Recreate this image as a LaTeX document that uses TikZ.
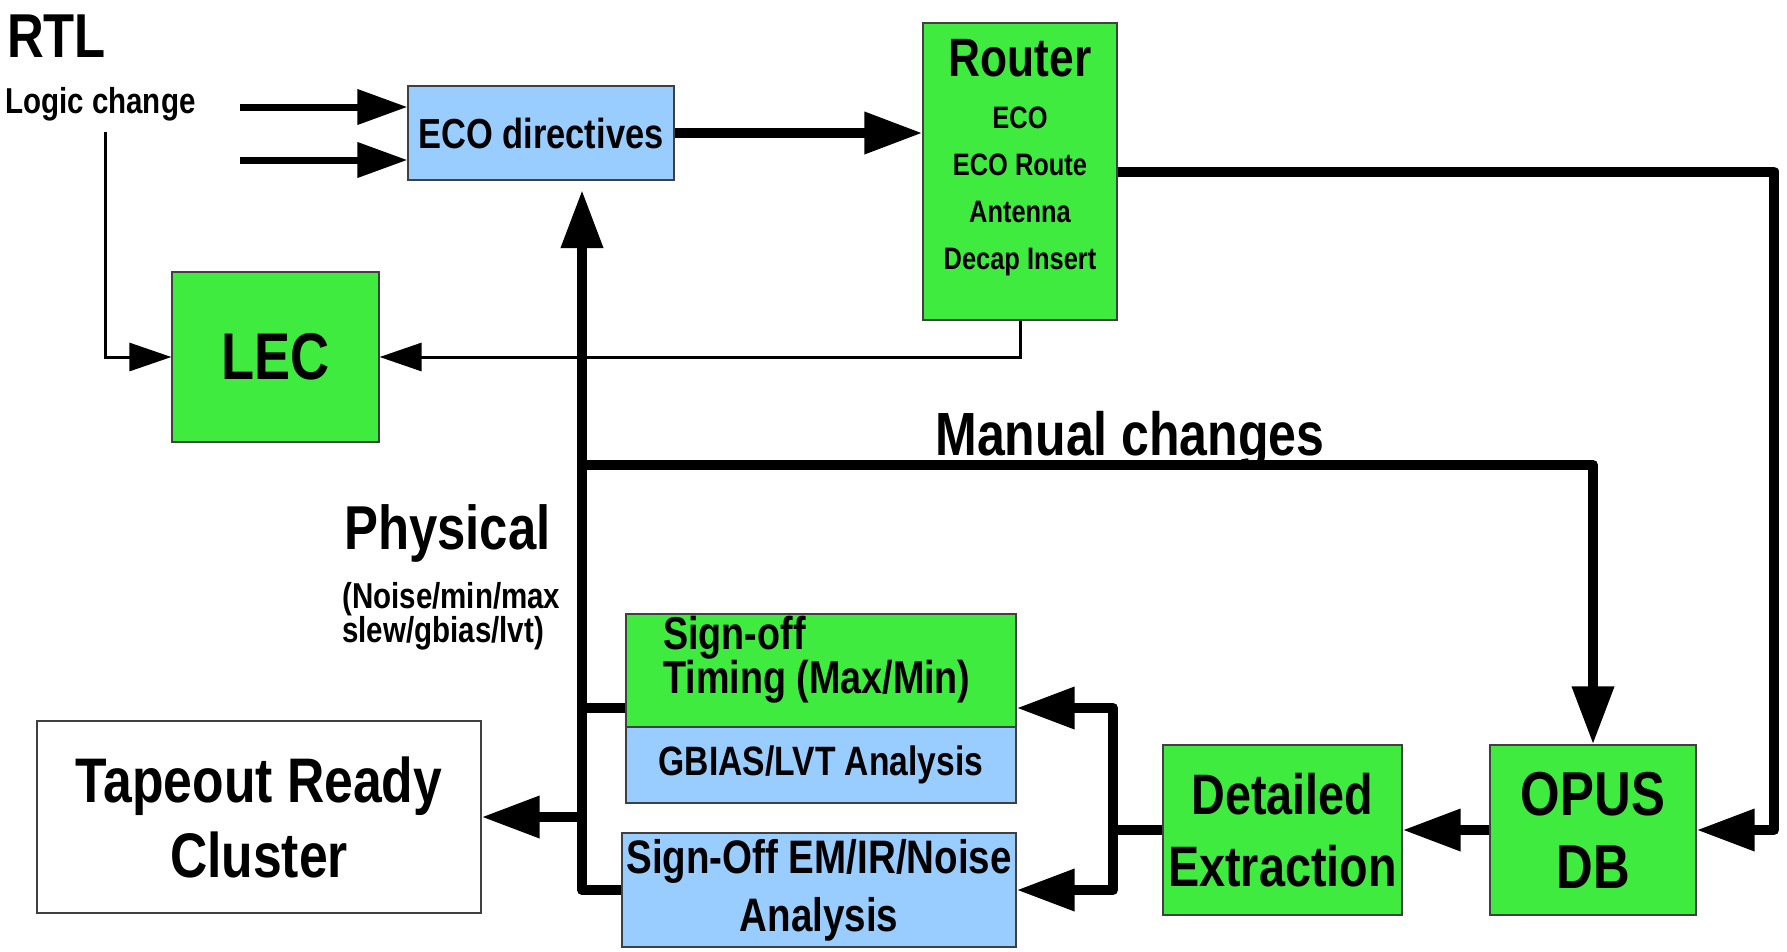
\documentclass[tikz,border=0pt]{standalone}
\usepackage{fontspec}
\setmainfont{Liberation Sans}[FakeStretch=0.82]
\usetikzlibrary{arrows.meta,calc}
\definecolor{boxgreen}{RGB}{64,235,64}
\definecolor{boxblue}{RGB}{153,204,255}
\newcommand\fsz[1]{\fontsize{#1}{#1}\selectfont\bfseries}
\newcommand\fszz[2]{\fontsize{#1}{#2}\selectfont\bfseries}
\begin{document}
\begin{tikzpicture}[x=1pt,y=-1pt,
  box/.style={draw=black!75, line width=1.2pt, inner sep=0pt, align=center},
  gbox/.style={box, fill=boxgreen},
  bbox/.style={box, fill=boxblue},
  wbox/.style={box, fill=white},
  lbl/.style={inner sep=0pt, anchor=base},
  lblw/.style={inner sep=0pt, anchor=base west},
  thickline/.style={line width=10pt, line join=round},
  midline/.style={line width=7pt},
  thinline/.style={line width=3pt},
  bigtip/.style={-{Triangle[length=58pt,width=40pt]}},
  medtip/.style={-{Triangle[length=50pt,width=34pt]}},
  smalltip/.style={-{Triangle[length=42pt,width=28pt]}}]
\useasboundingbox (0,0) rectangle (1787,951);
\fill[white] (0,0) rectangle (1787,951);

% boxes
\node[bbox, minimum width=266pt, minimum height=94pt, font=\fsz{42}] (eco) at (541,133) {ECO directives};
\node[gbox, minimum width=194pt, minimum height=297pt] (router) at (1020,171.5) {};
\node[gbox, minimum width=207pt, minimum height=170pt, font=\fsz{66}] (lec) at (275.5,357) {LEC};
\node[gbox, minimum width=390pt, minimum height=113pt] (timing) at (821,670.5) {};
\node[bbox, minimum width=390pt, minimum height=76pt, font=\fsz{41}] (gbias) at (821,765) {GBIAS/LVT Analysis};
\node[bbox, minimum width=394pt, minimum height=114pt, font=\fszz{47}{58}] (em) at (819,890) {Sign-Off EM/IR/Noise\\Analysis};
\node[wbox, minimum width=444pt, minimum height=192pt, font=\fszz{63}{75}] (tapeout) at (259,817) {Tapeout Ready\\Cluster};
\node[gbox, minimum width=239pt, minimum height=170pt, font=\fszz{57}{72}] (det) at (1282.5,830) {Detailed\\Extraction};
\node[gbox, minimum width=206pt, minimum height=170pt, font=\fszz{62}{73}] (opus) at (1593,830) {OPUS\\DB};

% texts
\node[lbl] (rt1) at (1020,76) {\fsz{54}Router};
\node[lbl] (rt2) at (1020,128) {\fsz{31}ECO};
\node[lbl] (rt3) at (1020,175) {\fsz{31}ECO Route};
\node[lbl] (rt4) at (1020,222) {\fsz{31}Antenna};
\node[lbl] (rt5) at (1020,269) {\fsz{31}Decap Insert};
\node[inner sep=0pt, anchor=north west, align=left, font=\fszz{46}{41}] (tmt) at (663,616) {Sign-off\\Timing (Max/Min)};
\node[lblw] (rtl) at (7,57) {\fsz{62}RTL};
\node[lblw] (logic) at (5,113) {\fsz{36}Logic change};
\node[lbl] (manual) at (1130,455) {\fsz{61}Manual changes};
\node[lblw] (phys) at (344,549) {\fsz{62}Physical};
\node[lblw] (phys2) at (342,608) {\fsz{36}(Noise/min/max};
\node[lblw] (phys3) at (342,642) {\fsz{36}slew/gbias/lvt)};

% coordinates
\coordinate (in1) at (240,107);
\coordinate (in2) at (240,160);
\coordinate (lg) at (105,132);
\coordinate (rcorner) at (1774,830);
\coordinate (tbot) at (582,890);
\coordinate (ttop) at (582,190);
\coordinate (tj) at (582,708);
\coordinate (tm) at (582,465);
\coordinate (tt) at (582,817);
\coordinate (dj) at (1113,830);

% thin connectors
\draw[thinline,smalltip] (router.south) |- (lec.east);
\draw[thinline,smalltip] (lg) |- (lec.west);

% medium input arrows
\draw[midline,medtip] (in1) -- (in1 -| eco.west);
\draw[midline,medtip] (in2) -- (in2 -| eco.west);

% thick connectors
\draw[thickline,bigtip] (eco.east) -- (eco.east -| router.west);
\draw[thickline,bigtip] (router.east) -| (rcorner) -- (opus.east);
\draw[thickline,bigtip] (em.west) -- (tbot) -- (ttop);
\draw[thickline] (timing.west |- tj) -- (tj);
\draw[thickline,bigtip] (tm) -| (opus.north);
\draw[thickline,bigtip] (tt) -- (tapeout.east);
\draw[thickline,bigtip] (opus.west) -- (det.east);
\draw[thickline] (det.west) -- (dj);
\draw[thickline,bigtip] (dj) |- (timing.east |- tj);
\draw[thickline,bigtip] (dj) |- (em.east);
\end{tikzpicture}
\end{document}
